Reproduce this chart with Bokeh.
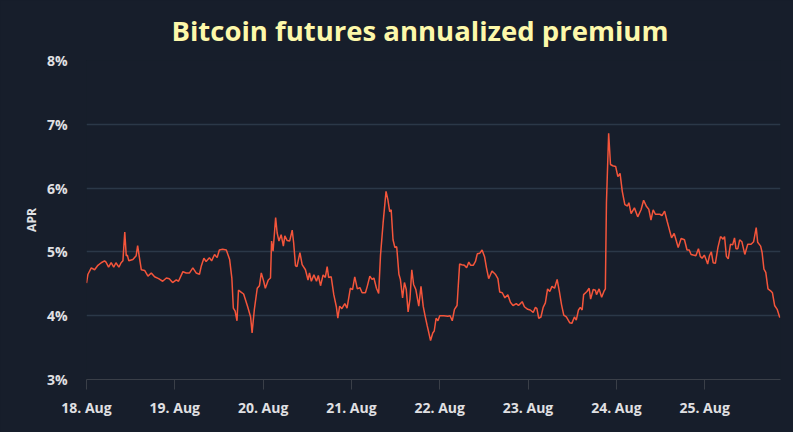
from bokeh.plotting import figure
from bokeh.models import Range1d, FixedTicker, ColumnDataSource, Title
from bokeh.embed import file_html
from bokeh.resources import INLINE

# ---- data (hours since 18 Aug 00:00, APR %) ----
hours = [0.0, 0.4, 1.3, 2.2, 3.1, 4.0, 4.9, 5.3, 6.0, 6.7, 7.4, 8.0, 8.8, 9.4, 9.9, 10.4, 10.8, 11.1, 11.5,
         12.6, 13.5, 13.9, 14.3, 14.9, 15.8, 16.7, 17.6, 18.5, 19.6, 20.7, 21.7, 22.5, 23.4, 24.4, 25.0,
         26.2, 27.1, 28.0, 28.9, 29.8, 30.7, 31.2, 31.9, 32.5, 33.4, 34.0, 34.8, 35.5, 36.1, 37.0, 38.0,
         38.9, 39.5, 39.9, 40.4, 40.9, 41.3, 42.0, 42.7, 43.8, 44.6, 45.0, 45.6, 46.4, 47.0, 47.5, 48.1,
         48.6, 49.4, 50.0, 50.3, 50.7, 51.4, 51.8, 52.3, 52.9, 53.5, 53.9, 54.5, 55.2, 55.9, 56.3, 56.8,
         57.2, 58.0, 58.6, 59.5, 60.2, 60.6, 61.1, 61.8, 62.5, 63.0, 63.6, 64.3, 64.9, 65.4, 65.8, 66.5,
         67.2, 67.9, 68.3, 68.8, 69.4, 70.2, 70.8, 71.7, 72.3, 72.9, 73.6, 74.3, 74.9, 75.8, 76.3, 77.0,
         77.6, 78.1, 78.8, 79.4, 79.9, 80.6, 81.4, 81.9, 82.4, 82.8, 83.3, 83.8, 84.3, 84.9, 85.3, 85.9,
         86.4, 86.9, 87.4, 87.9, 88.4, 88.9, 89.5, 90.3, 90.9, 91.5, 92.0, 92.6, 93.0, 93.5, 94.1, 94.5,
         95.0, 95.5, 96.0, 97.1, 98.2, 98.8, 99.4, 100.0, 100.7, 101.4, 102.0, 102.7, 103.3, 103.9, 104.4,
         105.1, 105.7, 106.2, 106.9, 107.5, 108.2, 108.7, 109.3, 110.2, 111.1, 111.8, 112.3, 113.0, 113.7,
         114.5, 115.2, 115.9, 116.8, 117.4, 118.4, 119.0, 119.9, 120.6, 121.4, 122.0, 122.4, 122.9, 123.5,
         124.1, 124.7, 125.3, 125.9, 126.5, 127.2, 127.9, 128.5, 129.1, 129.7, 130.4, 131.3, 131.9, 132.6,
         133.1, 133.7, 134.2, 134.7, 135.1, 136.0, 136.6, 137.0, 137.7, 138.3, 138.6, 139.3, 140.0, 140.6,
         141.0, 141.3, 141.9, 142.4, 143.0, 143.8, 144.4, 145.0, 145.6, 146.3, 147.0, 147.4, 148.0, 148.9,
         149.8, 150.7, 151.4, 152.2, 152.8, 153.4, 154.0, 154.6, 155.8, 156.4, 157.1, 157.8, 158.4, 159.0,
         159.7, 160.3, 160.8, 161.6, 162.5, 163.2, 163.8, 164.3, 164.9, 165.6, 166.3, 166.8, 167.3, 167.9,
         168.5, 168.8, 169.3, 169.8, 170.3, 170.9, 171.6, 172.3, 173.0, 173.4, 173.9, 174.4, 175.0, 175.6,
         176.1, 176.5, 177.0, 177.5, 178.1, 178.9, 179.7, 180.6, 181.3, 182.0, 182.4, 183.2, 183.6, 184.1,
         184.6, 185.2, 185.9, 186.4, 187.0, 187.7, 188.4]
apr = [4.51, 4.65, 4.75, 4.72, 4.79, 4.83, 4.86, 4.84, 4.76, 4.83, 4.76, 4.83, 4.76, 4.83, 4.86, 5.31, 4.94, 4.95, 4.86,
       4.88, 4.94, 5.10, 4.94, 4.72, 4.71, 4.62, 4.67, 4.61, 4.58, 4.54, 4.59, 4.58, 4.52, 4.56, 4.54,
       4.69, 4.67, 4.67, 4.75, 4.67, 4.65, 4.78, 4.90, 4.85, 4.91, 4.86, 4.96, 4.91, 5.03, 5.04, 5.03,
       4.88, 4.59, 4.12, 4.07, 3.92, 4.40, 4.37, 4.34, 4.14, 3.98, 3.73, 4.09, 4.43, 4.47, 4.67, 4.55,
       4.43, 4.56, 4.59, 5.17, 5.01, 5.54, 5.30, 5.17, 5.27, 5.09, 5.25, 5.18, 5.17, 5.34, 5.14, 4.78,
       4.77, 4.99, 4.80, 4.72, 4.56, 4.67, 4.54, 4.64, 4.54, 4.63, 4.47, 4.64, 4.60, 4.77, 4.60, 4.61,
       4.33, 4.14, 3.96, 4.15, 4.11, 4.19, 4.12, 4.43, 4.41, 4.61, 4.42, 4.44, 4.36, 4.36, 4.46, 4.62,
       4.57, 4.59, 4.43, 4.35, 4.95, 5.45, 5.95, 5.82, 5.63, 5.66, 5.19, 5.07, 5.08, 4.65, 4.57, 4.28,
       4.52, 4.41, 4.06, 4.26, 4.72, 4.49, 4.41, 4.15, 4.46, 4.15, 4.00, 3.84, 3.74, 3.61, 3.73, 3.76,
       3.96, 3.92, 4.00, 4.00, 3.99, 4.00, 3.92, 4.10, 4.16, 4.81, 4.80, 4.79, 4.75, 4.84, 4.79,
       4.79, 4.85, 4.97, 4.98, 5.03, 4.92, 4.75, 4.58, 4.70, 4.65, 4.58, 4.37, 4.36, 4.28,
       4.33, 4.21, 4.16, 4.19, 4.16, 4.22, 4.14, 4.10, 4.09, 4.05, 4.13, 4.11, 3.96, 3.98,
       4.13, 4.20, 4.42, 4.38, 4.46, 4.43, 4.57, 4.38, 4.17, 4.01, 3.98, 3.89, 3.88, 3.98,
       3.93, 4.09, 4.13, 4.09, 4.33, 4.38, 4.43, 4.26, 4.41, 4.40, 4.33, 4.42, 4.29, 4.38,
       4.42, 5.77, 6.86, 6.37, 6.35, 6.34, 6.18, 6.23, 5.95, 5.74, 5.72, 5.77, 5.60, 5.69,
       5.55, 5.66, 5.81, 5.71, 5.67, 5.50, 5.66, 5.59, 5.59, 5.57, 5.64, 5.48, 5.35, 5.22,
       5.29, 5.17, 5.07, 5.21, 5.19, 5.03, 5.03, 4.96, 4.95, 4.94, 5.05, 4.93, 4.90, 4.95,
       4.86, 4.81, 4.94, 5.00, 4.83, 4.82, 5.07, 5.24, 5.20, 5.24, 4.93, 4.89, 5.12, 5.11,
       5.22, 5.05, 5.05, 5.19, 5.16, 4.96, 5.12, 5.12, 5.16, 5.38, 5.15, 5.09, 4.99, 4.73,
       4.68, 4.42, 4.39, 4.36, 4.16, 4.10, 3.97]

tick_hours = [0, 24, 48, 72, 96, 120, 144, 168]
tick_labels = ["18. Aug", "19. Aug", "20. Aug", "21. Aug", "22. Aug", "23. Aug", "24. Aug", "25. Aug"]
y_ticks = [3, 4, 5, 6, 7, 8]
y_labels = ["3%", "4%", "5%", "6%", "7%", "8%"]
title_text = "Bitcoin futures annualized premium"

BG = "#171e2b"
GRID = "#2b3848"
TXT = "#e0e0e3"
FONT = "Open Sans"

p = figure(width=793, height=432, output_backend="svg", toolbar_location=None,
           x_range=Range1d(0, 188.6), y_range=Range1d(3, 8),
           min_border_left=86, min_border_right=13, min_border_top=60, min_border_bottom=53)
p.background_fill_color = BG
p.border_fill_color = BG
p.outline_line_color = None

t = Title(text=title_text, align="left", offset=85, vertical_align="top",
          text_font=FONT, text_font_size="27.5px", text_font_style="bold",
          text_color="#fdf8aa", standoff=19)
p.add_layout(t, "above")

src = ColumnDataSource(dict(x=hours, y=apr))
p.line("x", "y", source=src, line_color="#f4553b", line_width=1.5)

# x axis
p.xaxis.ticker = FixedTicker(ticks=tick_hours)
p.xaxis.major_label_overrides = {h: l for h, l in zip(tick_hours, tick_labels)}
p.xaxis.axis_line_color = "#3a3f48"
p.xaxis.major_tick_line_color = "#3a3f48"
p.xaxis.major_tick_out = 10
p.xaxis.major_tick_in = 0
p.xaxis.minor_tick_line_color = None
p.xaxis.major_label_standoff = 8
p.xaxis.major_label_text_font = FONT
p.xaxis.major_label_text_font_size = "14px"
p.xaxis.major_label_text_font_style = "bold"
p.xaxis.major_label_text_color = TXT

# y axis
p.yaxis.ticker = FixedTicker(ticks=y_ticks)
p.yaxis.major_label_overrides = {v: l for v, l in zip(y_ticks, y_labels)}
p.yaxis.axis_line_color = None
p.yaxis.major_tick_line_color = None
p.yaxis.minor_tick_line_color = None
p.yaxis.major_tick_out = 0
p.yaxis.major_tick_in = 0
p.yaxis.major_label_standoff = 19
p.yaxis.major_label_text_font = FONT
p.yaxis.major_label_text_font_size = "14px"
p.yaxis.major_label_text_font_style = "bold"
p.yaxis.major_label_text_color = TXT
p.yaxis.axis_label = "APR"
p.yaxis.axis_label_text_font = FONT
p.yaxis.axis_label_text_font_size = "12px"
p.yaxis.axis_label_text_font_style = "bold"
p.yaxis.axis_label_text_color = TXT
p.yaxis.axis_label_standoff = 4

p.xgrid.grid_line_color = None
p.ygrid.grid_line_color = GRID
p.ygrid.grid_line_width = 1.5

html = file_html(p, INLINE)
html = html.replace("</head>", "<style>html,body{background-color:%s;}</style></head>" % BG, 1)
open("out.html", "w").write(html)
